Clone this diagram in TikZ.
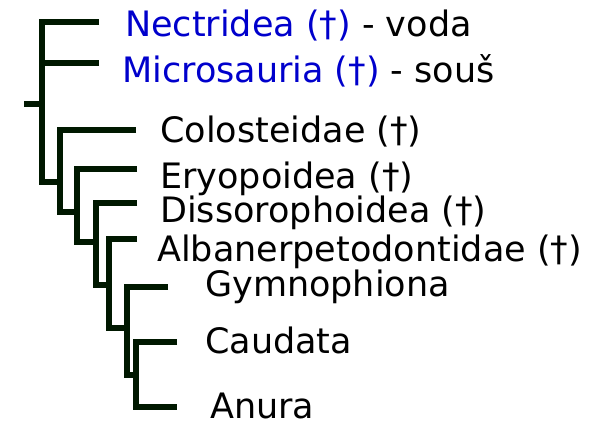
\documentclass[tikz,border=0pt]{standalone}
\usepackage{fontspec}
\setmainfont{DejaVu Sans}
\definecolor{branch}{HTML}{001800}
\definecolor{extinct}{HTML}{0000CC}
\tikzset{
  taxon/.style={anchor=base west,inner sep=0pt,font=\fontsize{35}{35}\selectfont},
  limb/.style={draw=branch,line width=6pt,line join=miter,line cap=butt}
}
\begin{document}
\begin{tikzpicture}[x=1pt,y=-1pt]

  \useasboundingbox (0,0) rectangle (590,425);

  % Tips of the branches
  \coordinate (TN) at (99,22.5);
  \coordinate (TM) at (99,63);
  \coordinate (TC) at (136,130);
  \coordinate (TE) at (137,169);
  \coordinate (TD) at (137,203);
  \coordinate (TA) at (137,239);
  \coordinate (TG) at (168,287);
  \coordinate (TK) at (177,342);
  \coordinate (TU) at (177,407);

  % Root and nodes
  \coordinate (R) at (24,104);
  \coordinate (N1) at (42,104);
  \coordinate (N2) at (60,182);
  \coordinate (N3) at (77,212);
  \coordinate (N4) at (96,242);
  \coordinate (N5) at (109,285);
  \coordinate (N6) at (127,328);
  \coordinate (N7) at (136,375);

  % Labels
  \node[taxon] (nect) at (125,37)
    {\textcolor{extinct}{Nectridea (†)} - voda};
  \node[taxon] (micro) at (122,83)
    {\textcolor{extinct}{Microsauria (†)} - souš};
  \node[taxon] (colo) at (160,143) {Colosteidae (†)};
  \node[taxon] (eryo) at (160,189) {Eryopoidea (†)};
  \node[taxon] (disso) at (160,223) {Dissorophoidea (†)};
  \node[taxon] (alban) at (157,262) {Albanerpetodontidae (†)};
  \node[taxon] (gymno) at (205,297) {Gymnophiona};
  \node[taxon] (caud) at (205,353) {Caudata};
  \node[taxon] (anura) at (210,418) {Anura};

  % Tree
  \draw[limb] (R) -- (N1);
  \draw[limb] (TN) -| (N1 |- N2) -- (N2);
  \draw[limb] (TM) -- (TM -| N1);
  \draw[limb] (TC) -| (N2 |- N3) -- (N3);
  \draw[limb] (TE) -| (N3 |- N4) -- (N4);
  \draw[limb] (TD) -| (N4 |- N5) -- (N5);
  \draw[limb] (TA) -| (N5 |- N6) -- (N6);
  \draw[limb] (TG) -| (N6 |- N7) -- (N7);
  \draw[limb] (TK) -| (N7 |- TU) -- (TU);

\end{tikzpicture}
\end{document}
